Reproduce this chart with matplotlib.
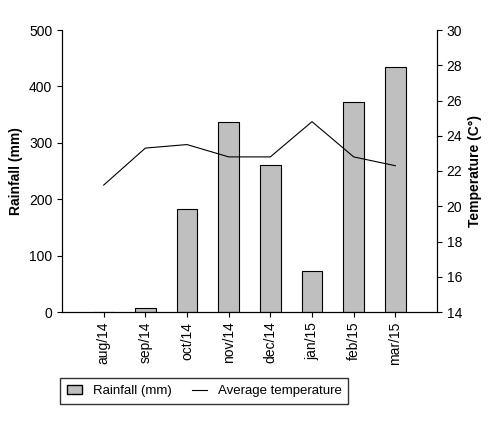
import matplotlib
matplotlib.use("Agg")
import matplotlib.pyplot as plt
from matplotlib.patches import Patch
from matplotlib.lines import Line2D

plt.rcParams['font.family'] = ['Liberation Sans Narrow', 'Liberation Sans', 'DejaVu Sans']

months = ["aug/14", "sep/14", "oct/14", "nov/14", "dec/14", "jan/15", "feb/15", "mar/15"]
rainfall = [0, 7, 182, 337, 260, 72, 372, 435]
temperature = [21.2, 23.3, 23.5, 22.8, 22.8, 24.8, 22.8, 22.3]

fig = plt.figure(figsize=(4.93, 4.21), dpi=100)
ax = fig.add_axes([62/493, 1-312/421, (437-62)/493, (312-30)/421])
x = range(len(months))
ax.bar(x, rainfall, width=0.5, color="#bfbfbf", edgecolor="black", linewidth=0.8)
ax.set_xlim(-1, len(months))
ax.set_ylim(0, 500)
ax.set_yticks(range(0, 501, 100))
ax.set_xticks(list(x))
ax.set_xticklabels(months, rotation=90, fontsize=10)
ax.set_ylabel("Rainfall (mm)", fontsize=10, fontweight="bold")
ax.tick_params(labelsize=10)
ax2 = ax.twinx()
ax2.plot(list(x), temperature, color="black", linewidth=0.8)
ax2.set_ylim(14, 30)
ax2.set_yticks(range(14, 31, 2))
ax2.set_ylabel("Temperature (C°)", fontsize=10, fontweight="bold")
ax2.tick_params(labelsize=10)
for a in (ax, ax2):
    a.spines['top'].set_visible(False)

handles = [Patch(facecolor="#bfbfbf", edgecolor="black", label="Rainfall (mm)"),
           Line2D([], [], color="black", linewidth=0.8, label="Average temperature")]
fig.legend(handles=handles, loc="center left", bbox_to_anchor=(60/493, 1-391/421),
           borderaxespad=0, ncol=2, frameon=True, fancybox=False, edgecolor="black",
           fontsize=9.5, handlelength=1.2, columnspacing=1.5, borderpad=0.5)
fig.savefig("out.png", dpi=100)
